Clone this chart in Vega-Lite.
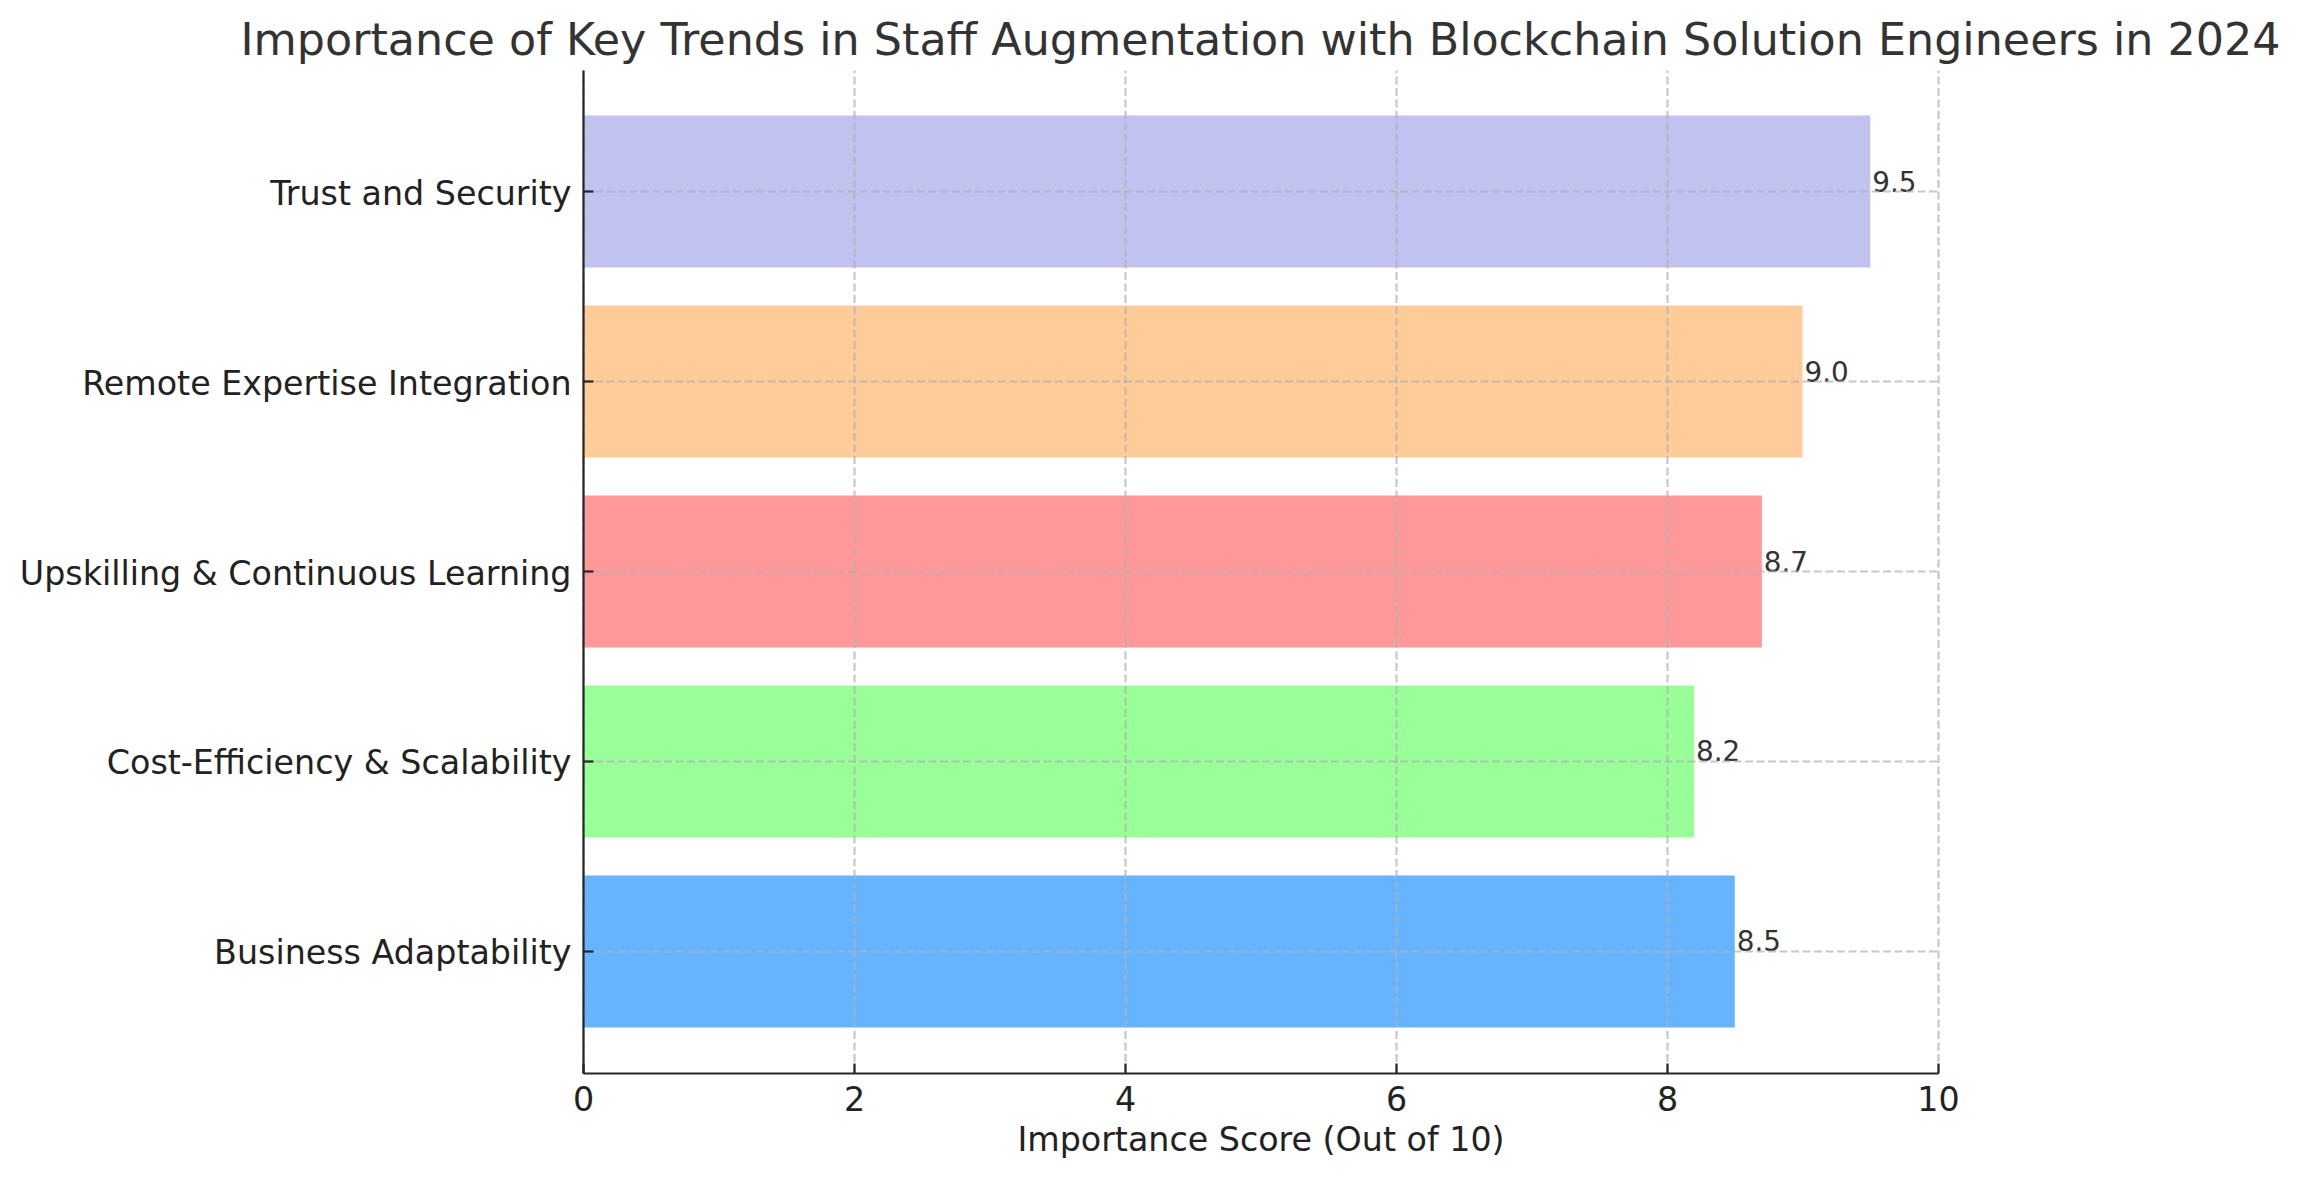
{
  "$schema": "https://vega.github.io/schema/vega-lite/v6.json",
  "autosize": {"type": "none"},
  "padding": {"left": 583, "top": 70, "right": 364, "bottom": 107},
  "width": 1355,
  "height": 1003,
  "background": "white",
  "config": {
    "font": "DejaVu Sans",
    "view": {"stroke": null}
  },
  "title": {
    "text": "Importance of Key Trends in Staff Augmentation with Blockchain Solution Engineers in 2024",
    "fontSize": 44.4,
    "fontWeight": "normal",
    "color": "#333333",
    "font": "DejaVu Sans",
    "anchor": "middle",
    "frame": "group",
    "offset": 6
  },
  "data": {
    "values": [
      {"trend": "Trust and Security", "score": 9.5},
      {"trend": "Remote Expertise Integration", "score": 9.0},
      {"trend": "Upskilling & Continuous Learning", "score": 8.7},
      {"trend": "Cost-Efficiency & Scalability", "score": 8.2},
      {"trend": "Business Adaptability", "score": 8.5}
    ]
  },
  "encoding": {
    "y": {
      "field": "trend",
      "type": "nominal",
      "sort": ["Trust and Security", "Remote Expertise Integration", "Upskilling & Continuous Learning", "Cost-Efficiency & Scalability", "Business Adaptability"],
      "scale": {"paddingInner": 0.2, "paddingOuter": 0.24},
      "axis": {
        "title": null,
        "zindex": 1,
        "labelFontSize": 33.3,
        "labelColor": "#222222",
        "labelPadding": 22,
        "labelOffset": 3,
        "labelLimit": 0,
        "tickSize": -10,
        "tickWidth": 2.2,
        "tickColor": "#262626",
        "domainColor": "#262626",
        "domainWidth": 2.2,
        "grid": true,
        "gridColor": "#b0b0b0",
        "gridOpacity": 0.7,
        "gridWidth": 2.2,
        "gridDash": [8, 3.5]
      }
    },
    "x": {
      "field": "score",
      "type": "quantitative",
      "scale": {"domain": [0, 10], "nice": false},
      "axis": {
        "title": "Importance Score (Out of 10)",
        "titleFontSize": 33.3,
        "titleFontWeight": "normal",
        "titleColor": "#222222",
        "titlePadding": 8,
        "values": [0, 2, 4, 6, 8, 10],
        "format": "d",
        "zindex": 1,
        "labelFontSize": 33.3,
        "labelColor": "#222222",
        "labelPadding": 21,
        "labelFlush": false,
        "tickSize": -10,
        "tickWidth": 2.2,
        "tickColor": "#262626",
        "domainColor": "#262626",
        "domainWidth": 2.2,
        "grid": true,
        "gridColor": "#b0b0b0",
        "gridOpacity": 0.7,
        "gridWidth": 2.2,
        "gridDash": [8, 3.5]
      }
    }
  },
  "layer": [
    {
      "mark": {"type": "bar"},
      "encoding": {
        "color": {
          "field": "trend",
          "type": "nominal",
          "legend": null,
          "scale": {
            "domain": ["Trust and Security", "Remote Expertise Integration", "Upskilling & Continuous Learning", "Cost-Efficiency & Scalability", "Business Adaptability"],
            "range": ["#c2c2f0", "#ffcc99", "#ff9999", "#99ff99", "#66b3ff"]
          }
        }
      }
    },
    {
      "mark": {"type": "text", "align": "left", "baseline": "alphabetic", "dx": 2, "fontSize": 27.8, "color": "#333333"},
      "encoding": {
        "text": {"field": "score", "type": "quantitative", "format": ".1f"}
      }
    }
  ]
}
